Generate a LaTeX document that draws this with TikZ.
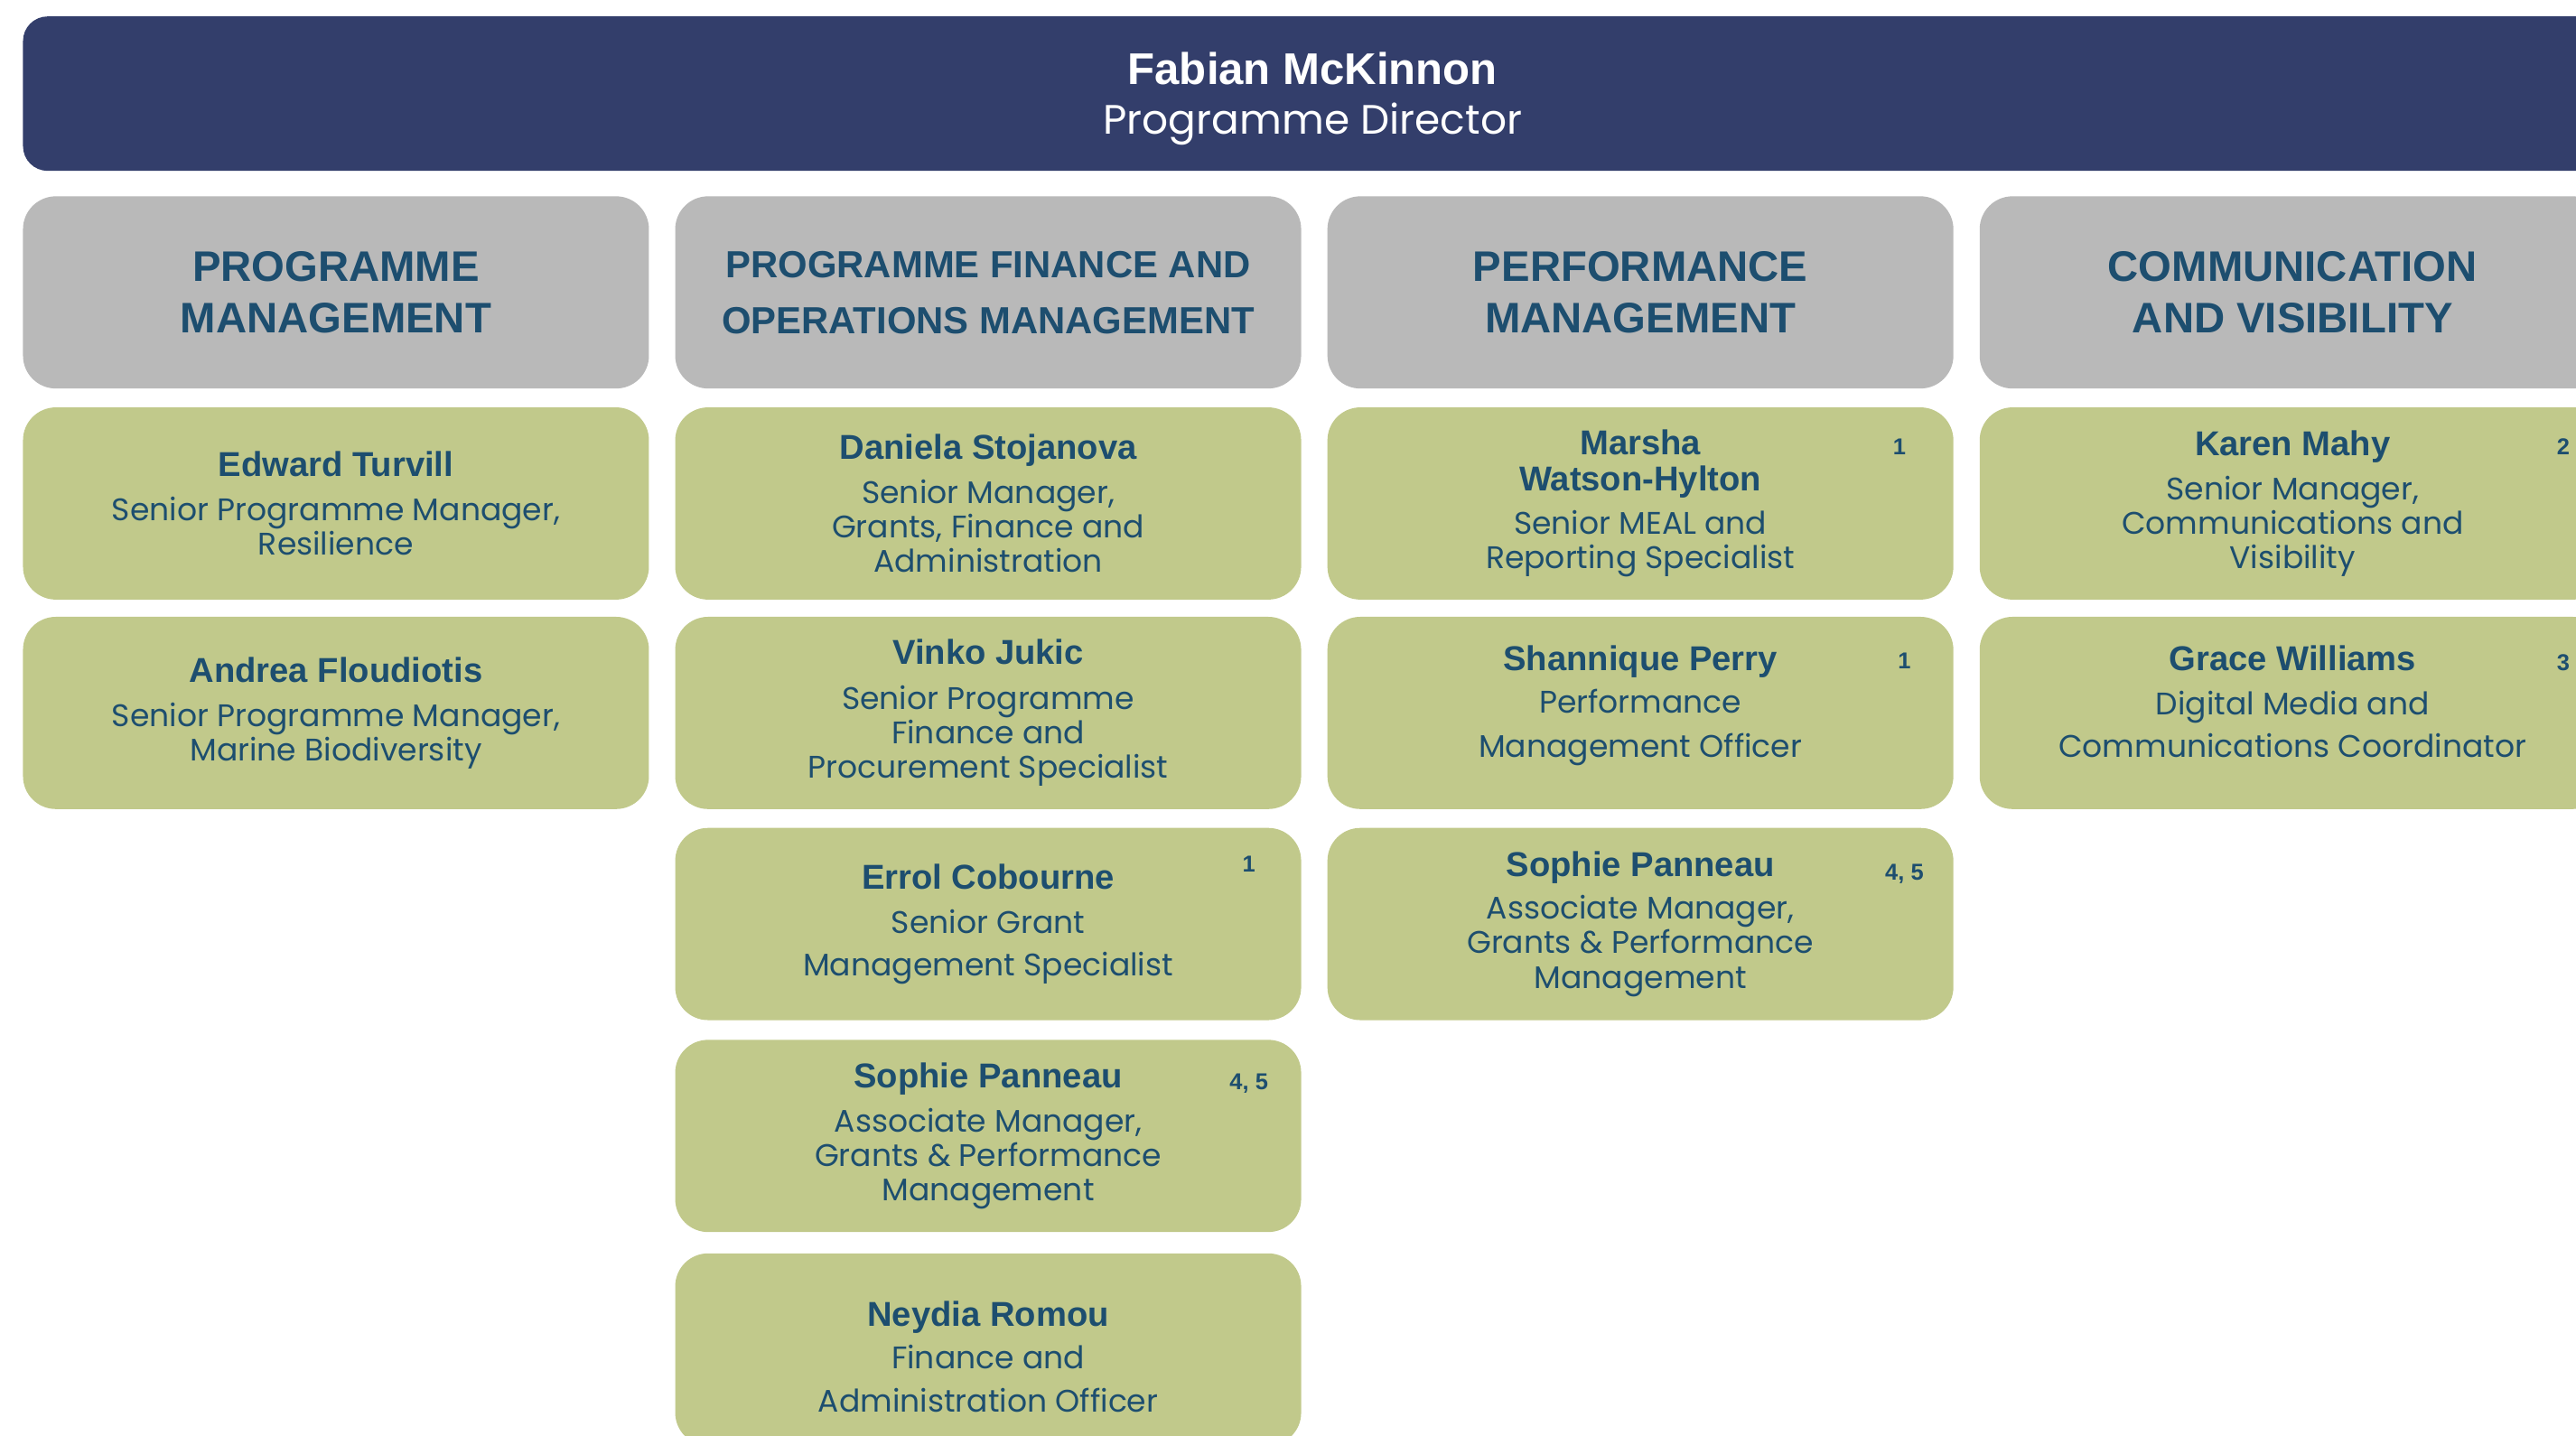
\documentclass[tikz,border=0pt]{standalone}
\usepackage{fontspec}
\setmainfont{Poppins}
\newfontfamily\headfont{Liberation Sans}
\usetikzlibrary{positioning}

\definecolor{navy}{HTML}{333E6B}
\definecolor{greybox}{HTML}{B9B9B9}
\definecolor{greenbox}{HTML}{C1C98B}
\definecolor{ink}{HTML}{1D4E6F}

% bold name line inside a staff box
\newcommand\who[1]{{\headfont\bfseries\fontsize{21}{24}\selectfont #1}}
% invisible strut to push a text block up (depth) or down (height)
\newcommand\lift[1]{\rule[-#1]{0pt}{0pt}}
\newcommand\drop[1]{\rule{0pt}{#1}}

\begin{document}
\begin{tikzpicture}[x=1pt,y=-1pt,
    box/.style={rounded corners=20pt,minimum width=381pt,minimum height=117pt,
      inner sep=0pt,align=center,text=ink},
    dept/.style={box,fill=greybox,font=\headfont\bfseries\fontsize{26}{31}\selectfont},
    staff/.style={box,fill=greenbox,font=\fontsize{19}{21}\selectfont},
    fnote/.style={text=ink,inner sep=0pt,font=\headfont\bfseries\fontsize{14}{16}\selectfont}]
  \path[use as bounding box] (0,0) rectangle (1568,874);
  \clip (0,0) rectangle (1568,874);

  % director
  \node[fill=navy,rounded corners=15pt,minimum width=1570pt,minimum height=94pt,
    text=white,align=center,font=\fontsize{25}{30}\selectfont] (director) at (799,57)
    {{\headfont\bfseries\fontsize{27}{30}\selectfont\drop{26pt}Fabian McKinnon}\\Programme Director};

  % departments
  \node[dept] (pm) at (204.5,178) {PROGRAMME\\MANAGEMENT};
  \node[dept,font=\headfont\bfseries\fontsize{23}{34}\selectfont] (pfo) at (601.5,178)
    {PROGRAMME FINANCE AND\\OPERATIONS MANAGEMENT};
  \node[dept] (perf) at (998.5,178) {PERFORMANCE\\MANAGEMENT};
  \node[dept] (comms) at (1395.5,178) {COMMUNICATION\\AND VISIBILITY};

  % programme management
  \node[staff] (turvill) at (204.5,306.5)
    {\who{Edward Turvill}\\[6pt]Senior Programme Manager,\\Resilience};
  \node[staff] (floudiotis) at (204.5,434)
    {\who{Andrea Floudiotis}\\[6pt]Senior Programme Manager,\\Marine Biodiversity};

  % finance and operations
  \node[staff] (stojanova) at (601.5,306.5)
    {\who{Daniela Stojanova}\\[6pt]Senior Manager,\\Grants, Finance and\\Administration};
  \node[staff] (jukic) at (601.5,434)
    {\who{Vinko Jukic}\\[6pt]Senior Programme\\Finance and\\Procurement Specialist};
  \node[staff] (cobourne) at (601.5,562.5)
    {\who{Errol Cobourne}\\[6pt]Senior Grant\\[5pt]Management Specialist};
  \node[staff] (panneauA) at (601.5,691.5)
    {\who{Sophie Panneau}\\[6pt]Associate Manager,\\Grants \& Performance\\Management};
  \node[staff] (romou) at (601.5,821.5)
    {\who{\drop{24pt}Neydia Romou}\\[5pt]Finance and\\[5pt]Administration Officer};

  % performance
  \node[staff] (watson) at (998.5,306.5)
    {\who{Marsha}\\[1pt]\who{Watson-Hylton}\\[5pt]Senior MEAL and\\Reporting Specialist};
  \node[staff] (perry) at (998.5,434)
    {\who{Shannique Perry}\\[5pt]Performance\\[6pt]Management Officer\lift{14pt}};
  \node[staff] (panneauB) at (998.5,562.5)
    {\who{Sophie Panneau}\\[5pt]Associate Manager,\\Grants \& Performance\\Management};

  % communication
  \node[staff] (mahy) at (1395.5,306.5)
    {\who{Karen Mahy}\\[6pt]Senior Manager,\\Communications and\\Visibility};
  \node[staff] (williams) at (1395.5,434)
    {\who{Grace Williams}\\[6pt]Digital Media and\\[5pt]Communications Coordinator\lift{14pt}};

  % footnote marks
  \node[fnote] (n1) at ([shift={(-32,22)}]cobourne.north east) {1};
  \node[fnote] (n2) at ([shift={(-32,27)}]panneauA.north east) {4, 5};
  \node[fnote] (n3) at ([shift={(-33,24)}]watson.north east) {1};
  \node[fnote] (n4) at ([shift={(-30,27)}]perry.north east) {1};
  \node[fnote] (n5) at ([shift={(-30,28)}]panneauB.north east) {4, 5};
  \node[fnote] (n6) at ([shift={(-26,24)}]mahy.north east) {2};
  \node[fnote] (n7) at ([shift={(-26,28)}]williams.north east) {3};
\end{tikzpicture}
\end{document}
